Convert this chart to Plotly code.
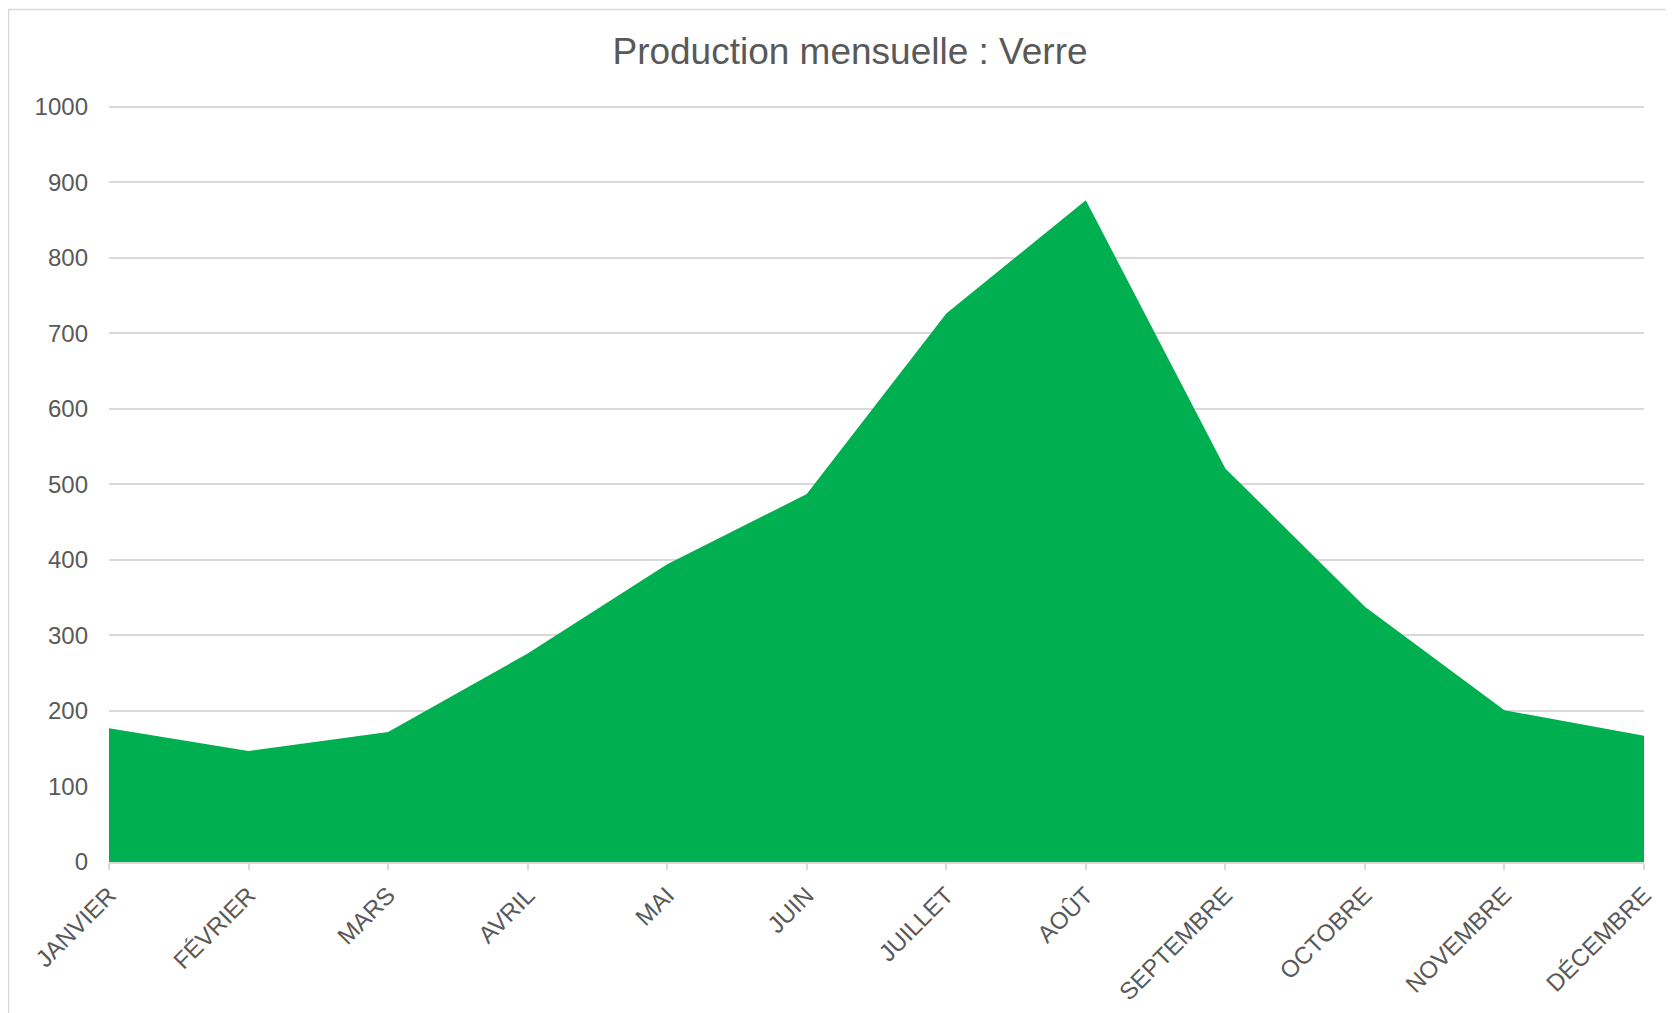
# Production mensuelle (verre) - graphique en aires
import plotly.graph_objects as go

mois = ['JANVIER', 'FÉVRIER', 'MARS', 'AVRIL', 'MAI', 'JUIN', 'JUILLET',
        'AOÛT', 'SEPTEMBRE', 'OCTOBRE', 'NOVEMBRE', 'DÉCEMBRE']
production = [177, 147, 172, 276, 394, 487, 726, 876, 521, 338, 201, 167]
y_ticks = list(range(0, 1001, 100))

# la page ajoute 8 px de marge autour de la figure
W, H = 1674, 1013
L, R, T, B = 101, 38, 91, 159
pw, ph = W - L - R, H - T - B

fig = go.Figure()
fig.add_trace(go.Scatter(x=mois,
                         y=production,
                         mode='lines',
                         fill='tozeroy',
                         fillcolor='#00B050',
                         line=dict(color='#00B050', width=0),
                         hoverinfo='x+y'))

# cadre gris autour du graphique
fig.add_shape(type='rect', xref='paper', yref='paper',
              x0=(0.5 - L) / pw, x1=(W + 20 - L) / pw,
              y0=-(H + 20 - T - ph) / ph, y1=(ph + T - 1.5) / ph,
              line=dict(color='#d9d9d9', width=1.5), layer='below')

font = 'Liberation Sans, Arial, sans-serif'
fig.update_layout(
    width=W, height=H,
    margin=dict(l=L, r=R, t=T, b=B),
    title=dict(text='Production mensuelle : Verre',
               x=842 / W, xref='container', xanchor='center',
               y=1 - 43 / H, yref='container', yanchor='middle',
               font=dict(family=font, size=37, color='#595959')),
    font=dict(family=font, size=24, color='#595959'),
    showlegend=False,
    plot_bgcolor='white',
    paper_bgcolor='white',
    xaxis=dict(type='category', range=[0, len(mois) - 1],
               showgrid=False, zeroline=False,
               showline=True, linecolor='#d9d9d9', linewidth=1.5,
               ticks='outside', ticklen=6, tickcolor='#d9d9d9', tickwidth=1.5,
               tickangle=-45, ticklabelstandoff=2,
               tickfont=dict(size=24, color='#595959')),
    yaxis=dict(range=[0, 1010], tickvals=y_ticks,
               showgrid=True, gridcolor='#d9d9d9', gridwidth=1.5,
               zeroline=False, showline=False,
               ticks='', ticklabelstandoff=20,
               tickfont=dict(size=24, color='#595959')),
)

fig.write_html("out.html")
